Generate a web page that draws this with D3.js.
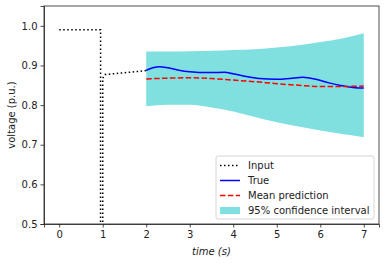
<!DOCTYPE html>
<html>
<head>
<meta charset="UTF-8">
<style>
    body { margin: 0; background: white; font-family: "DejaVu Sans", sans-serif; }
    svg { display: block; }
    .tick text { font-size: 10px; fill: #222; font-family: "DejaVu Sans", sans-serif; }
    .tick line, .domain { stroke: #222; stroke-width: 0.8px; }
</style>
</head>
<body>
<script src="https://d3js.org/d3.v7.min.js"></script>
<script>
    // input signal
    var inputT = [0, 0.95, 0.95, 1.0, 1.0, 1.05, 2.0];
    var inputV = [0.99, 0.99, 0.0, 0.0, 0.868, 0.877, 0.887];

    // true response
    var trueT = [2.0, 2.15, 2.3, 2.5, 2.75, 3.0, 3.25, 3.5, 3.8, 4.0, 4.3, 4.6, 5.0, 5.3, 5.6, 5.9, 6.2, 6.5, 6.8, 7.0];
    var trueV = [0.888, 0.894, 0.897, 0.894, 0.888, 0.884, 0.882, 0.882, 0.883, 0.879, 0.872, 0.867, 0.865, 0.867, 0.870, 0.865, 0.856, 0.849, 0.844, 0.843];

    // prediction
    var predT = [2.0, 2.5, 3.0, 3.5, 4.0, 4.5, 5.0, 5.5, 6.0, 6.5, 7.0];
    var meanV = [0.866, 0.868, 0.869, 0.867, 0.863, 0.859, 0.854, 0.850, 0.847, 0.847, 0.848];
    var upperV = [0.935, 0.935, 0.936, 0.937, 0.939, 0.941, 0.945, 0.951, 0.959, 0.968, 0.981];
    var lowerV = [0.797, 0.801, 0.801, 0.794, 0.784, 0.770, 0.757, 0.746, 0.736, 0.727, 0.719];

    var xTicks = [0, 1, 2, 3, 4, 5, 6, 7];
    var yTicks = [0.5, 0.6, 0.7, 0.8, 0.9, 1.0];
    var legendLabels = ["Input", "True", "Mean prediction", "95% confidence interval"];

    var width = 386, height = 265;
    var m = {left: 44, right: 7, top: 6, bottom: 41};

    var x = d3.scaleLinear().domain([-0.35, 7.35]).range([m.left, width - m.right]);
    var y = d3.scaleLinear().domain([0.5, 1.05]).range([height - m.bottom, m.top]);

    var svg = d3.select("body").append("svg")
        .attr("width", width)
        .attr("height", height);

    svg.append("clipPath").attr("id", "clip")
        .append("rect")
        .attr("x", m.left).attr("y", m.top)
        .attr("width", width - m.left - m.right)
        .attr("height", height - m.top - m.bottom);

    var g = svg.append("g").attr("clip-path", "url(#clip)");

    var band = predT.map(function(t, i) { return [t, lowerV[i], upperV[i]]; });
    g.append("path")
        .datum(band)
        .attr("fill", "#80dfdf")
        .attr("d", d3.area()
            .curve(d3.curveMonotoneX)
            .x(function(d) { return x(d[0]); })
            .y0(function(d) { return y(d[1]); })
            .y1(function(d) { return y(d[2]); }));

    var line = d3.line()
        .x(function(d) { return x(d[0]); })
        .y(function(d) { return y(d[1]); });

    g.append("path")
        .datum(inputT.map(function(t, i) { return [t, inputV[i]]; }))
        .attr("fill", "none")
        .attr("stroke", "black")
        .attr("stroke-width", 1.5)
        .attr("stroke-dasharray", "1.5,2.5")
        .attr("d", line);

    g.append("path")
        .datum(trueT.map(function(t, i) { return [t, trueV[i]]; }))
        .attr("fill", "none")
        .attr("stroke", "blue")
        .attr("stroke-width", 1.5)
        .attr("d", line.curve(d3.curveMonotoneX));

    g.append("path")
        .datum(predT.map(function(t, i) { return [t, meanV[i]]; }))
        .attr("fill", "none")
        .attr("stroke", "red")
        .attr("stroke-width", 1.5)
        .attr("stroke-dasharray", "5.5,2.4")
        .attr("d", line.curve(d3.curveMonotoneX));

    // axes
    svg.append("g")
        .attr("transform", "translate(0," + (height - m.bottom) + ")")
        .call(d3.axisBottom(x).tickValues(xTicks).tickSize(3.5).tickPadding(3).tickFormat(d3.format("d")));
    svg.append("g")
        .attr("transform", "translate(" + m.left + ",0)")
        .call(d3.axisLeft(y).tickValues(yTicks).tickSize(3.5).tickPadding(3).tickFormat(d3.format(".1f")));

    svg.append("rect")
        .attr("x", m.left).attr("y", m.top)
        .attr("width", width - m.left - m.right)
        .attr("height", height - m.top - m.bottom)
        .attr("fill", "none").attr("stroke", "#222").attr("stroke-width", 0.8);

    svg.append("text")
        .attr("x", (m.left + width - m.right) / 2)
        .attr("y", 255)
        .attr("text-anchor", "middle")
        .attr("font-size", 10)
        .attr("font-style", "italic")
        .attr("fill", "#222")
        .text("time (s)");

    svg.append("text")
        .attr("transform", "translate(15," + ((m.top + height - m.bottom) / 2) + ") rotate(-90)")
        .attr("text-anchor", "middle")
        .attr("font-size", 10)
        .attr("fill", "#222")
        .text("voltage (p.u.)");

    // legend
    var lg = svg.append("g").attr("transform", "translate(216,156)");
    lg.append("rect")
        .attr("width", 158).attr("height", 63).attr("rx", 2)
        .attr("fill", "white").attr("fill-opacity", 0.8)
        .attr("stroke", "#ccc").attr("stroke-width", 0.8);

    legendLabels.forEach(function(label, i) {
        var cy = 9.5 + i * 15;
        if (i === 3) {
            lg.append("rect").attr("x", 4).attr("y", cy - 3.5).attr("width", 20).attr("height", 7).attr("fill", "#80dfdf");
        } else {
            var styles = [["black", "1.5,2.5"], ["blue", null], ["red", "5.5,2.4"]];
            lg.append("line")
                .attr("x1", 4).attr("x2", 24).attr("y1", cy).attr("y2", cy)
                .attr("stroke", styles[i][0]).attr("stroke-width", 1.5)
                .attr("stroke-dasharray", styles[i][1]);
        }
        lg.append("text")
            .attr("x", 32).attr("y", cy + 3.5)
            .attr("font-size", 10).attr("fill", "#222")
            .text(label);
    });
</script>
</body>
</html>
